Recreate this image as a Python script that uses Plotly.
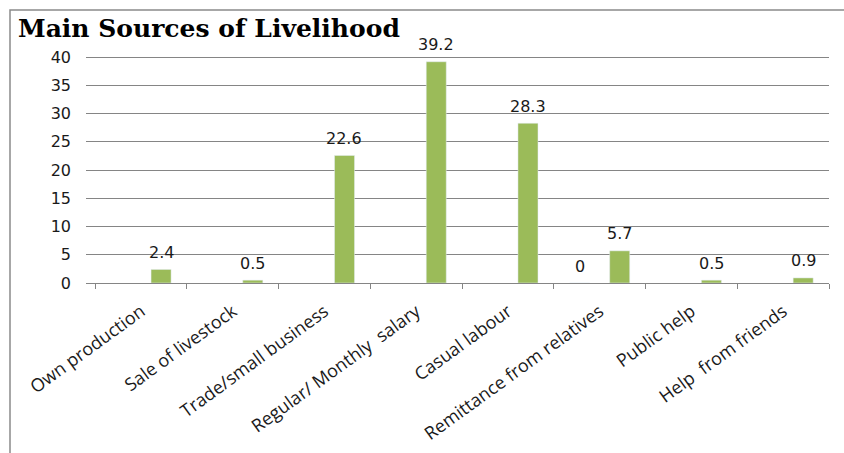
import plotly.graph_objects as go

categories = ["Own production", "Sale of livestock", "Trade/small business",
              "Regular/ Monthly  salary", "Casual labour", "Remittance from relatives",
              "Public help", "Help  from friends"]
series_a = [None, None, None, None, None, 0, None, None]
series_b = [None] * 8
series_c = [2.4, 0.5, 22.6, 39.2, 28.3, 5.7, 0.5, 0.9]
y_ticks = [0, 5, 10, 15, 20, 25, 30, 35, 40, 45]
y_ticktext = ["0", "5", "10", "15", "20", "25", "30", "35", "40", ""]

GREEN = "#9BBB59"
GRID = "#858585"
label_font = dict(family="DejaVu Sans", size=16, color="#1a1a1a")

fig = go.Figure()
fig.add_trace(go.Bar(x=categories, y=series_a, marker_color="#4F81BD", showlegend=False))
fig.add_trace(go.Bar(x=categories, y=series_b, marker_color="#C0504D", showlegend=False))
fig.add_trace(go.Bar(x=categories, y=series_c, marker_color=GREEN, showlegend=False))

annotations = []
for cat, v in zip(categories, series_c):
    if v is not None:
        annotations.append(dict(x=cat, y=v, xref="x", yref="y", text=str(v), showarrow=False,
                                xshift=20, yshift=17, yanchor="middle", font=label_font))
for cat, v in zip(categories, series_a):
    if v is not None:
        annotations.append(dict(x=cat, y=v, xref="x", yref="y", text=str(v), showarrow=False,
                                xshift=-20, yshift=17, yanchor="middle", font=label_font))

fig.update_layout(
    width=844, height=453,
    margin=dict(l=86, r=15, t=29, b=170),
    paper_bgcolor="white", plot_bgcolor="white",
    barmode="group", bargap=0.345, bargroupgap=0,
    title=dict(text="<b>Main Sources of Livelihood</b>", xref="container", yref="container",
               x=18 / 844, xanchor="left", y=1 - 28 / 453, yanchor="middle",
               font=dict(family="DejaVu Serif", size=25, color="black"), automargin=False),
    annotations=annotations,
    shapes=[dict(type="rect", xref="paper", yref="paper",
                 x0=(10 - 86) / 743, x1=(860 - 86) / 743,
                 y0=-1.0, y1=(283 - 10) / 254,
                 line=dict(color="#8a8a8a", width=1.5), fillcolor="rgba(0,0,0,0)", layer="below")],
)
fig.update_xaxes(
    range=[-0.6, 7.5], tickson="boundaries", ticks="outside", ticklen=5, tickcolor=GRID,
    showline=True, linecolor=GRID, linewidth=1, showgrid=False, automargin=False,
    tickangle=-36, ticklabelstandoff=10,
    tickfont=dict(family="Open Sans", size=18, color="#1a1a1a"),
)
fig.update_yaxes(
    range=[0, 45], tickvals=y_ticks, ticktext=y_ticktext, automargin=False,
    showgrid=True, gridcolor=GRID, gridwidth=1, zeroline=False, showline=False,
    ticks="", ticklabelstandoff=14,
    tickfont=label_font,
)
fig.write_html("out.html")
